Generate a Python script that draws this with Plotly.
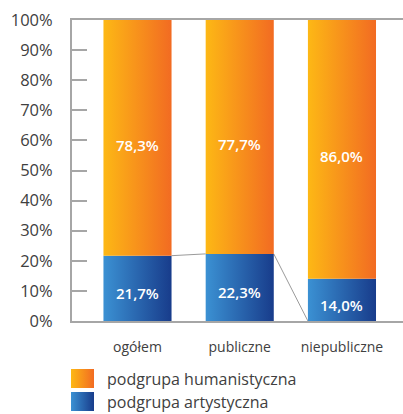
import plotly.graph_objects as go

categories = ["ogółem", "publiczne", "niepubliczne"]
artystyczna = [21.7, 22.3, 14.0]
humanistyczna = [78.3, 77.7, 86.0]
series_names = ["podgrupa humanistyczna", "podgrupa artystyczna"]
y_ticks = [0, 10, 20, 30, 40, 50, 60, 70, 80, 90, 100]

FONT = "Open Sans"
TXT = "#404040"
AXIS = "#a6a6a6"
ORANGE = [[0, "#fdb815"], [1, "#f26b22"]]
BLUE = [[0, "#3b91d3"], [1, "#183c8b"]]

W = 0.333  # bar half width in category units

fig = go.Figure()

def rect_trace(x0, x1, y0, y1, cs, xa="x", ya="y"):
    return go.Scatter(
        x=[x0, x1, x1, x0, x0], y=[y0, y0, y1, y1, y0],
        xaxis=xa, yaxis=ya,
        mode="lines", fill="toself",
        line=dict(width=0, color="rgba(0,0,0,0)"),
        fillgradient=dict(type="horizontal", colorscale=cs),
        hoverinfo="skip", showlegend=False,
    )

# series lines (drawn first, under bars)
sx = [0 + W, 1 - W, None, 1 + W, 2 - W]
sy = [artystyczna[0], artystyczna[1], None, artystyczna[1], 0]
fig.add_trace(go.Scatter(x=sx, y=sy, mode="lines",
                         line=dict(color="#9a9a9a", width=1),
                         hoverinfo="skip", showlegend=False))

label_font = dict(family=FONT, size=15, color="white", weight=600)
for i, (a, h) in enumerate(zip(artystyczna, humanistyczna)):
    fig.add_trace(rect_trace(i - W, i + W, 0, a, BLUE))
    fig.add_trace(rect_trace(i - W, i + W, a, a + h, ORANGE))
    fig.add_annotation(x=i, y=a / 2, text=f"{a:.1f}%".replace(".", ","),
                       showarrow=False, yshift=-5, font=label_font)
    fig.add_annotation(x=i, y=a + h / 2, text=f"{h:.1f}%".replace(".", ","),
                       showarrow=False, yshift=-7, font=label_font)

# custom legend drawn in a pixel-unit helper axis
legend_items = [(series_names[0], ORANGE, 26, 45), (series_names[1], BLUE, 3, 22)]
for name, cs, y0, y1 in legend_items:
    fig.add_trace(rect_trace(71, 94, y0, y1, cs, xa="x2", ya="y2"))
    fig.add_annotation(x=105, y=(y0 + y1) / 2, xref="x2", yref="y2", text=name,
                       showarrow=False, xanchor="left",
                       font=dict(family=FONT, size=16, color=TXT))

fig.update_layout(
    width=403, height=414, autosize=False,
    margin=dict(l=0, r=0, t=20, b=0),
    paper_bgcolor="white", plot_bgcolor="rgba(0,0,0,0)",
    showlegend=False,
    xaxis=dict(domain=[72 / 403, 1], range=[-0.6406, 2.597], automargin=False,
               tickvals=[0, 1, 2], ticktext=categories,
               showline=True, linecolor=AXIS, linewidth=2, mirror=True,
               showgrid=False, zeroline=False, ticks="", ticklabelstandoff=12,
               tickfont=dict(family=FONT, size=14, color=TXT), fixedrange=True),
    yaxis=dict(domain=[1 - 301 / 394, 1], range=[0, 100], automargin=False,
               tickvals=y_ticks, ticktext=[f"{v}%" for v in y_ticks],
               showline=True, linecolor=AXIS, linewidth=2,
               showgrid=False, zeroline=False,
               ticks="inside", ticklen=15, tickwidth=2, tickcolor=AXIS,
               ticklabelstandoff=14,
               tickfont=dict(family=FONT, size=16.5, color=TXT), fixedrange=True),
    xaxis2=dict(domain=[0, 1], range=[0, 403], visible=False, fixedrange=True,
                automargin=False),
    yaxis2=dict(domain=[0, 0.2], range=[0, 78.8], visible=False, fixedrange=True,
                automargin=False),
)

fig.write_html("out.html", config={"displayModeBar": False, "responsive": False},
               post_script="document.body.style.margin='0';document.body.style.overflow='hidden';")
